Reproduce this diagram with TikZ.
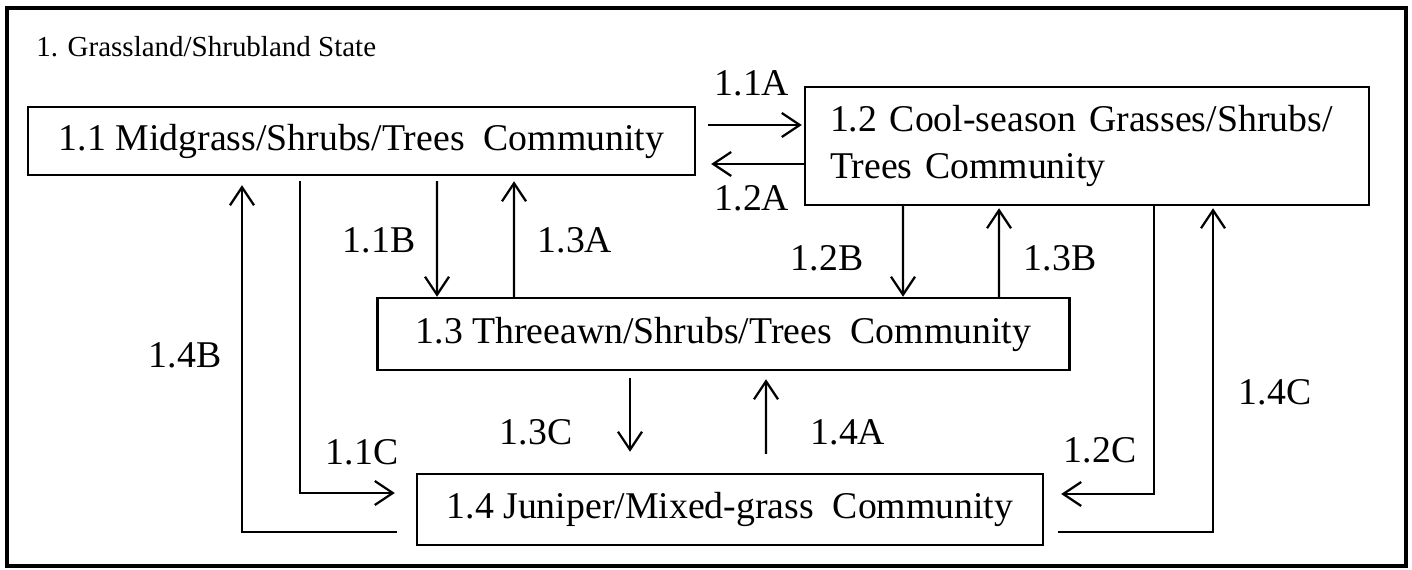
\documentclass[tikz,border=0pt]{standalone}
\usepackage{fontspec}
\setmainfont{Liberation Serif}
\usetikzlibrary{calc,arrows.meta}

\begin{document}
\begin{tikzpicture}[x=0.02cm, y=-0.02cm,
	box/.style={draw=black, line width=0.05cm, inner sep=0pt, font=\fontsize{21.5}{26.5}\selectfont},
	lbl/.style={inner sep=0pt, font=\fontsize{21.5}{26.5}\selectfont},
	link/.style={line width=0.045cm, -{Straight Barb[length=0.36cm, width=0.48cm]}}]
	\useasboundingbox (0,0) rectangle (1412,570);
	\draw[line width=0.08cm] (7,8) rectangle (1406,566);
	\node[lbl, anchor=west, font=\fontsize{16.5}{20}\selectfont] (title) at (36,47) {1. Grassland/Shrubland State};
	% community boxes
	\node[box, minimum width=13.34cm, minimum height=1.36cm] (mid) at (361.5,141) {1.1 Midgrass/Shrubs/Trees\ \ Community};
	\node[box, minimum width=11.28cm, minimum height=2.36cm, text width=10.28cm, inner xsep=0.5cm, align=left] (cool) at (1087,146) {1.2 Cool-season Grasses/Shrubs/\\Trees Community};
	\node[box, minimum width=13.84cm, minimum height=1.44cm] (three) at (723.5,334) {1.3 Threeawn/Shrubs/Trees\ \ Community};
	\node[box, minimum width=12.52cm, minimum height=1.42cm] (jun) at (730,509.5) {1.4 Juniper/Mixed-grass\ \ Community};
	% transitions
	\draw[link] ($(mid.east)+(12,-16)$) -- ($(cool.west)+(-2,-21)$);
	\draw[link] ($(cool.west)+(0,18)$) -- ($(mid.east)+(15,23)$);
	\draw[link] ($(mid.south)+(75.5,5)$) -- ($(three.north)+(-286.5,0)$);
	\draw[link] ($(three.north)+(-209.5,0)$) -- ($(mid.south)+(152.5,5)$);
	\draw[link] ($(cool.south)+(-184,0)$) -- ($(three.north)+(179.5,0)$);
	\draw[link] ($(three.north)+(275.5,0)$) -- ($(cool.south)+(-88,2)$);
	\draw[link] ($(three.south)+(-93.5,7)$) -- ($(jun.north)+(-100,-21)$);
	\draw[link] ($(jun.north)+(36,-19)$) -- ($(three.south)+(42.5,8)$);
	\draw[link] ($(mid.south)+(-61.5,5)$) |- ($(jun.west)+(-21,-16.5)$);
	\draw[link] ($(jun.west)+(-19,22.5)$) -| ($(mid.south)+(-119.5,9)$);
	\draw[link] ($(cool.south)+(67,0)$) |- ($(jun.east)+(17,-15.5)$);
	\draw[link] ($(jun.east)+(14,22.5)$) -| ($(cool.south)+(126,2)$);
	% labels
	\node[lbl] (l11A) at (752,83) {1.1A};
	\node[lbl] (l12A) at (752,198) {1.2A};
	\node[lbl] (l11B) at (379,240) {1.1B};
	\node[lbl] (l13A) at (575,240) {1.3A};
	\node[lbl] (l12B) at (827,258) {1.2B};
	\node[lbl] (l13B) at (1060,258) {1.3B};
	\node[lbl] (l13C) at (536,432) {1.3C};
	\node[lbl] (l14A) at (848,432) {1.4A};
	\node[lbl] (l11C) at (362,452) {1.1C};
	\node[lbl] (l12C) at (1100,450) {1.2C};
	\node[lbl] (l14B) at (185,355) {1.4B};
	\node[lbl] (l14C) at (1275,392) {1.4C};
\end{tikzpicture}
\end{document}
